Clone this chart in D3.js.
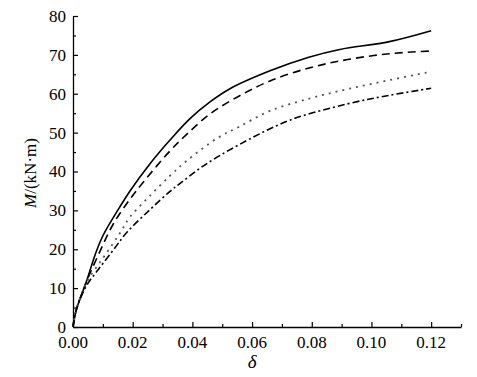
<!DOCTYPE html>
<html>
<head>
<meta charset="utf-8">
<script src="https://cdn.jsdelivr.net/npm/d3@7"></script>
<style>
  body { margin: 0; background: #fff; }
</style>
</head>
<body>
<div id="chart"></div>
<script>
// Curves: delta, M (kN·m)
const solidCurve = [
  [0, 0], [0.0011, 4.4], [0.0045, 11.7], [0.0078, 19.4], [0.0101, 23.6], [0.0157, 30.9],
  [0.0191, 35.0], [0.0258, 42.0], [0.0325, 48.1], [0.0392, 53.6], [0.0459, 57.9],
  [0.0526, 61.3], [0.066, 65.9], [0.079, 69.4], [0.0894, 71.4], [0.106, 73.4], [0.12, 76.2]
];
const dashedCurve = [
  [0, 0], [0.0011, 4.4], [0.0045, 11.6], [0.009, 19.4], [0.0135, 26.5], [0.019, 32.8],
  [0.0236, 37.3], [0.0325, 45.3], [0.038, 49.5], [0.0459, 54.8], [0.0554, 59.3],
  [0.066, 63.3], [0.0794, 66.7], [0.092, 68.8], [0.106, 70.3], [0.12, 71]
];
const dottedCurve = [
  [0, 0], [0.0011, 4.4], [0.0045, 11.4], [0.0101, 17.8], [0.0157, 24.1], [0.019, 28.2],
  [0.0252, 33.3], [0.0325, 38.9], [0.038, 42.7], [0.049, 48.9], [0.0554, 51.4],
  [0.066, 55.6], [0.0794, 58.8], [0.092, 61.2], [0.106, 63.5], [0.12, 65.7]
];
const dashDotCurve = [
  [0, 0], [0.0011, 4.4], [0.0045, 10.6], [0.0084, 14.7], [0.0135, 19.8], [0.018, 24.3],
  [0.0258, 30.2], [0.0325, 34.9], [0.036, 37], [0.0436, 41.4], [0.0554, 46.8],
  [0.0727, 53.2], [0.092, 57.4], [0.106, 59.6], [0.12, 61.4]
];

const xTicks = [0, 0.02, 0.04, 0.06, 0.08, 0.10, 0.12];
const yTicks = [0, 10, 20, 30, 40, 50, 60, 70, 80];

const width = 477;
const height = 377;
const margin = { top: 16, left: 73 };
const serif = "'Liberation Serif', 'Times New Roman', Tinos, serif";

const svg = d3.select("#chart")
  .append("svg")
    .attr("width", width)
    .attr("height", height)
    .attr("font-family", serif);

const innerChart = svg
  .append("g")
    .attr("transform", `translate(${margin.left}, ${margin.top})`);

// Scales
const xScale = d3.scaleLinear()
  .domain([0, 0.13])
  .range([0, 388]);
const yScale = d3.scaleLinear()
  .domain([0, 80])
  .range([311, 0]);

// Axes (ticks point inward)
const bottomAxis = innerChart
  .append("g")
    .attr("transform", `translate(0, 311)`)
    .call(d3.axisBottom(xScale).tickValues(d3.range(0, 0.1301, 0.01)).tickSize(0).tickFormat(""));
bottomAxis.select(".domain").attr("stroke", "#000").attr("stroke-width", 1.3);
bottomAxis.selectAll(".tick line")
  .attr("y2", (d, i) => i % 2 === 0 ? -5 : -3)
  .attr("stroke", "#000")
  .attr("stroke-width", 1.2);
innerChart
  .append("g")
  .selectAll("text")
  .data(xTicks)
  .join("text")
    .attr("x", d => xScale(d))
    .attr("y", 311 + 21)
    .attr("text-anchor", "middle")
    .attr("font-size", 17)
    .attr("font-family", serif)
    .text(d => d3.format(".2f")(d));

const leftAxis = innerChart
  .append("g")
    .call(d3.axisLeft(yScale).tickValues(d3.range(0, 81, 5)).tickSize(0).tickFormat(""));
leftAxis.select(".domain").attr("stroke", "#000").attr("stroke-width", 1.3);
leftAxis.selectAll(".tick line")
  .attr("x2", (d, i) => i % 2 === 0 ? 5 : 3)
  .attr("stroke", "#000")
  .attr("stroke-width", 1.2);
innerChart
  .append("g")
  .selectAll("text")
  .data(yTicks)
  .join("text")
    .attr("x", -7)
    .attr("y", d => yScale(d))
    .attr("dy", "0.35em")
    .attr("text-anchor", "end")
    .attr("font-size", 17)
    .attr("font-family", serif)
    .text(d => d);

// Axis labels
svg
  .append("text")
    .attr("x", margin.left + xScale(0.06))
    .attr("y", 368)
    .attr("text-anchor", "middle")
    .attr("font-size", 19)
    .attr("font-style", "italic")
    .attr("font-family", serif)
    .text("δ");

const yLabel = svg
  .append("text")
    .attr("transform", `translate(36, ${margin.top + 157}) rotate(-90)`)
    .attr("text-anchor", "middle")
    .attr("font-size", 17)
    .attr("font-family", serif);
yLabel.append("tspan").attr("font-style", "italic").text("M");
yLabel.append("tspan").text("/(kN·m)");

// Curves
const lineGenerator = d3.line()
  .x(d => xScale(d[0]))
  .y(d => yScale(d[1]))
  .curve(d3.curveCatmullRom.alpha(0.5));

const series = [
  { data: solidCurve, dash: null, color: "#000", w: 1.6 },
  { data: dashedCurve, dash: "8,5", color: "#000", w: 1.6 },
  { data: dottedCurve, dash: "2,5", color: "#555", w: 1.8 },
  { data: dashDotCurve, dash: "7,3,2,3", color: "#000", w: 1.6 }
];

innerChart
  .selectAll(".curve")
  .data(series)
  .join("path")
    .attr("class", "curve")
    .attr("d", d => lineGenerator(d.data))
    .attr("fill", "none")
    .attr("stroke", d => d.color)
    .attr("stroke-width", d => d.w)
    .attr("stroke-dasharray", d => d.dash);
</script>
</body>
</html>
